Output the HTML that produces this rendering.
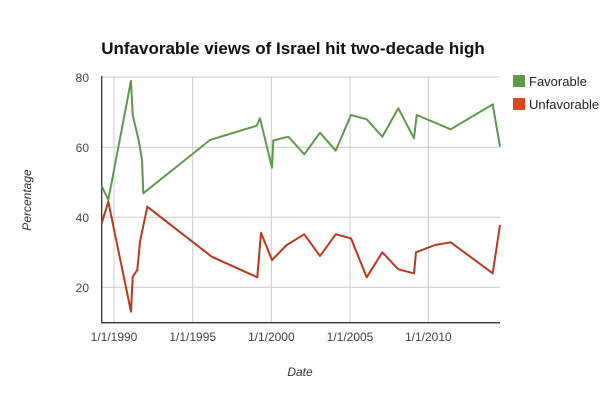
<!DOCTYPE html>
<html><head><meta charset="utf-8"><style>
html,body{margin:0;padding:0;background:#fff;}
svg{display:block;font-family:"Liberation Sans",Arial,sans-serif;}
</style></head><body>
<svg width="600" height="400" viewBox="0 0 600 400">
<rect width="600" height="400" fill="#fff"/>
<text x="293" y="54" text-anchor="middle" font-size="17" font-weight="bold" fill="#111">Unfavorable views of Israel hit two-decade high</text>
<g stroke="#ccc" stroke-width="1">
<line x1="102" y1="77" x2="500" y2="77"/>
<line x1="102" y1="147.3" x2="500" y2="147.3"/>
<line x1="102" y1="217.3" x2="500" y2="217.3"/>
<line x1="102" y1="287.3" x2="500" y2="287.3"/>
<line x1="114" y1="77" x2="114" y2="322.5"/>
<line x1="192.7" y1="77" x2="192.7" y2="322.5"/>
<line x1="271.3" y1="77" x2="271.3" y2="322.5"/>
<line x1="350" y1="77" x2="350" y2="322.5"/>
<line x1="428.3" y1="77" x2="428.3" y2="322.5"/>
</g>
<line x1="101.7" y1="76" x2="101.7" y2="323" stroke="#333" stroke-width="1.3"/>
<line x1="101" y1="322.7" x2="500" y2="322.7" stroke="#333" stroke-width="1.3"/>
<g font-size="12" fill="#444" text-anchor="end">
<text x="89" y="82">80</text><text x="89" y="152">60</text><text x="89" y="222">40</text><text x="89" y="292">20</text>
</g>
<g font-size="12" fill="#444" text-anchor="middle">
<text x="114" y="341">1/1/1990</text><text x="192.7" y="341">1/1/1995</text><text x="271.3" y="341">1/1/2000</text><text x="350" y="341">1/1/2005</text><text x="428.3" y="341">1/1/2010</text>
</g>
<text x="300" y="376" text-anchor="middle" font-size="12" font-style="italic" fill="#333">Date</text>
<text transform="translate(31,200) rotate(-90)" text-anchor="middle" font-size="12" font-style="italic" fill="#333">Percentage</text>
<polyline fill="none" stroke="#5e9a4c" stroke-width="2" stroke-linejoin="round" points="101.7,186 108.3,200 131,80.7 132.7,115 139,141.7 142,160 143.3,193.3 210,140 256.7,125.7 260,118.3 272,167.7 273.3,140.5 288.3,136.7 304.3,154.3 320,132.7 335.7,150.7 351,115 366.7,119.3 382.3,136.7 398.3,108.3 414,138.3 416.7,115 450.7,129.3 492.7,104.3 500,146.7"/>
<polyline fill="none" stroke="#b8391d" stroke-width="2" stroke-linejoin="round" points="101.7,223.3 108.3,201.7 131,311.7 132.7,276.7 137.3,270 140,241.7 147.3,206.7 211.7,256.7 257.3,277.3 261,232.7 272,260 286.7,245 304.3,234.3 320,256 335.7,234.3 351,238.3 366.7,277.3 382.3,252.3 398.3,269.3 414,273.3 416,252.3 435,245 450.7,242.3 492.7,273.3 500,225"/>
<rect x="513" y="75" width="12" height="12" fill="#5e9a4c"/>
<text x="529" y="86" font-size="13" fill="#222">Favorable</text>
<rect x="513" y="98" width="12" height="12" fill="#d9461e"/>
<text x="529" y="109" font-size="13" fill="#222">Unfavorable</text>
</svg>
</body></html>
